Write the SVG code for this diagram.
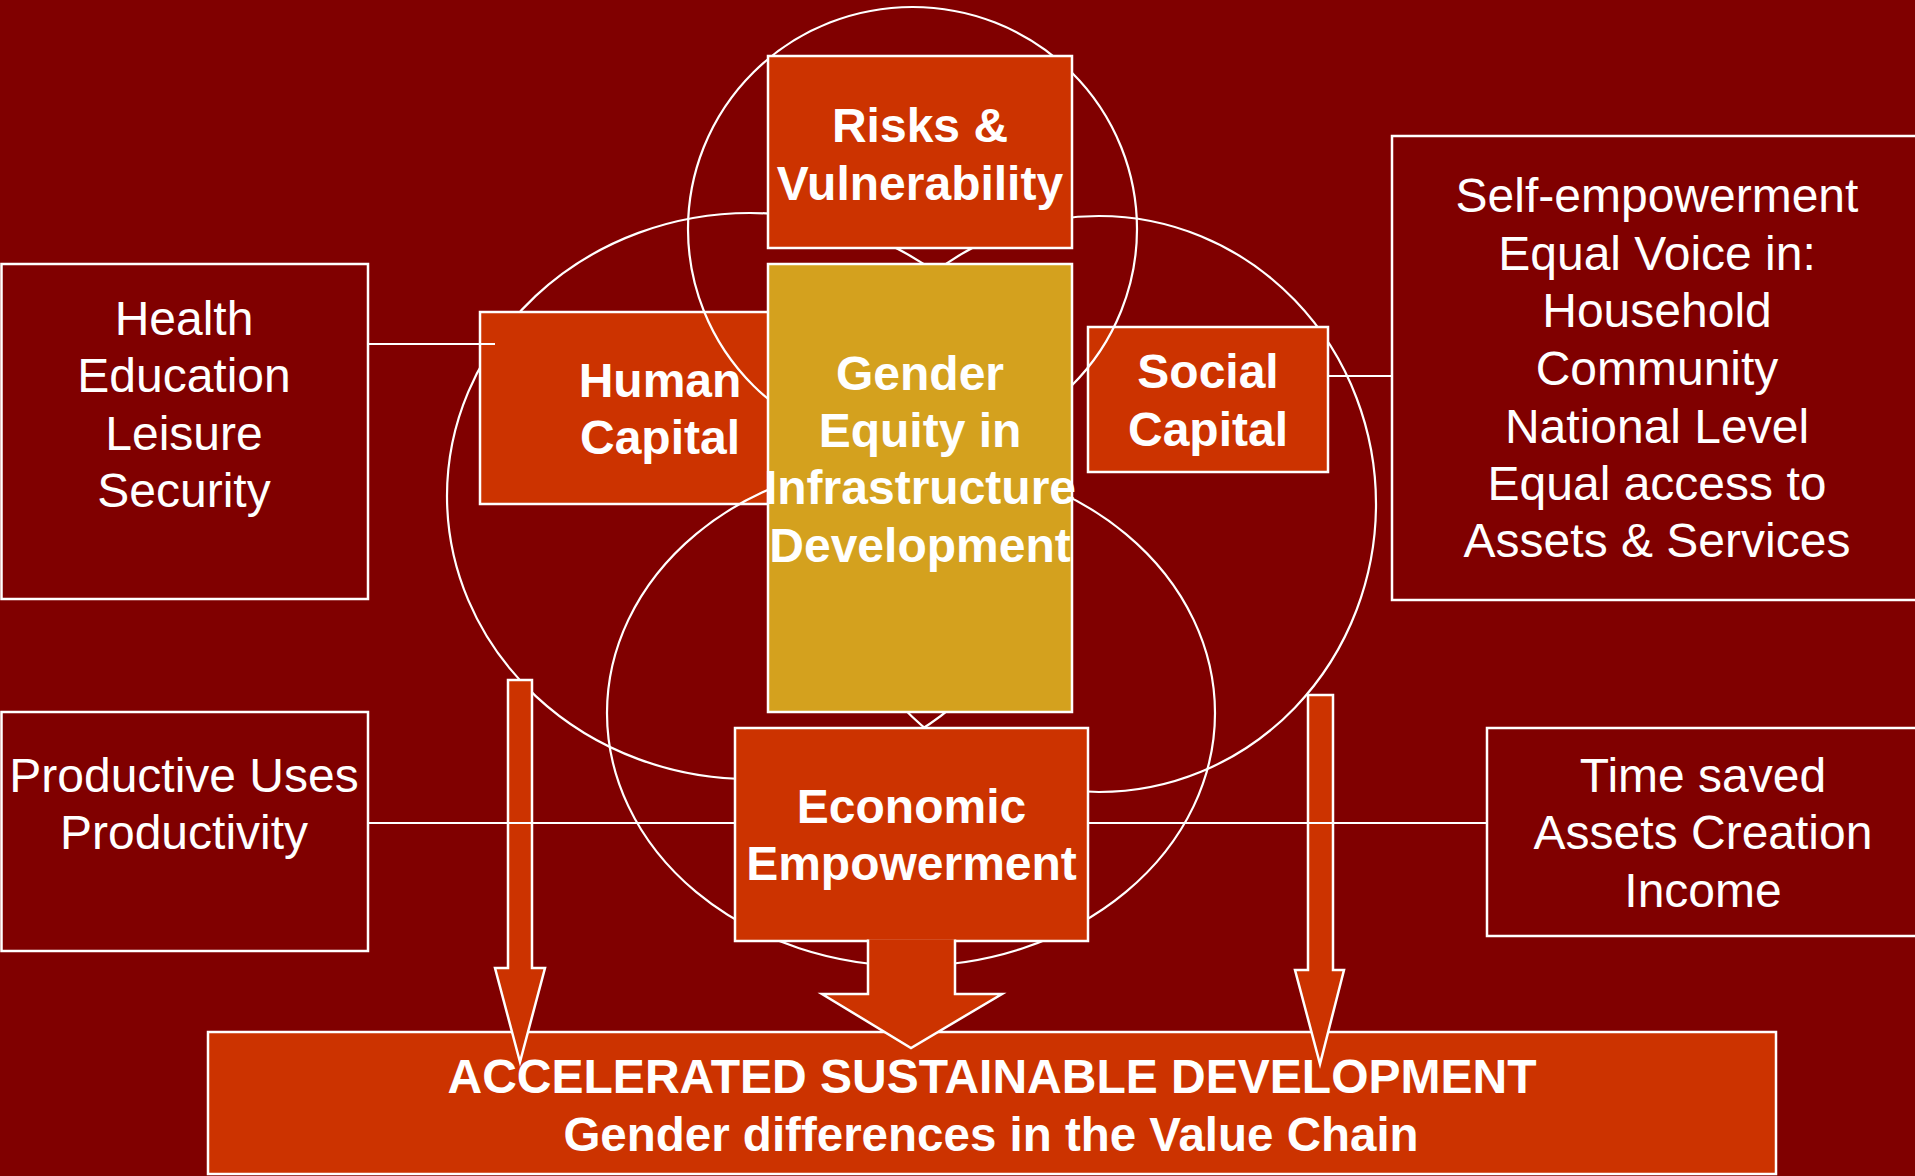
<svg xmlns="http://www.w3.org/2000/svg" width="1915" height="1176" viewBox="0 0 1915 1176">
  <style>
    .ring { fill: none; stroke: #ffffff; stroke-width: 2.2; }
    .core { fill: #cc3300; stroke: #ffffff; stroke-width: 2.5; }
    .gold { fill: #d4a11e; stroke: #ffffff; stroke-width: 2.5; }
    .side { fill: #800000; stroke: #ffffff; stroke-width: 2.5; }
    .link { stroke: #ffffff; stroke-width: 2.2; fill: none; }
    .arrow { fill: #cc3300; stroke: #ffffff; stroke-width: 2.5; stroke-linejoin: miter; }
    text { font-family: "Liberation Sans", Arial, sans-serif; fill: #ffffff; text-anchor: middle; }
    .b { font-weight: bold; font-size: 48px; }
    .r { font-size: 48px; }
  </style>

  <rect x="0" y="0" width="1915" height="1176" fill="#800000"/>

  <!-- outer context boxes -->
  <g id="health-box">
    <rect class="side" x="1.5" y="264" width="366.5" height="335"/>
    <text class="r" x="184" y="335">Health</text>
    <text class="r" x="184" y="392">Education</text>
    <text class="r" x="184" y="450">Leisure</text>
    <text class="r" x="184" y="507">Security</text>
  </g>
  <g id="productive-box">
    <rect class="side" x="1.5" y="712" width="366.5" height="239"/>
    <text class="r" x="184" y="792">Productive Uses</text>
    <text class="r" x="184" y="849">Productivity</text>
  </g>
  <g id="voice-box">
    <rect class="side" x="1392" y="136" width="540" height="464"/>
    <text class="r" x="1657" y="212">Self-empowerment</text>
    <text class="r" x="1657" y="270">Equal Voice in:</text>
    <text class="r" x="1657" y="327">Household</text>
    <text class="r" x="1657" y="385">Community</text>
    <text class="r" x="1657" y="443">National Level</text>
    <text class="r" x="1657" y="500">Equal access to</text>
    <text class="r" x="1657" y="557">Assets &amp; Services</text>
  </g>
  <g id="time-box">
    <rect class="side" x="1487" y="728" width="440" height="208"/>
    <text class="r" x="1703" y="792">Time saved</text>
    <text class="r" x="1703" y="849">Assets Creation</text>
    <text class="r" x="1703" y="907">Income</text>
  </g>

  <!-- side rings, under the capital boxes -->
  <g id="rings-back">
    <ellipse class="ring" cx="750" cy="496" rx="303" ry="283"/>
    <ellipse class="ring" cx="1099" cy="504" rx="277" ry="288"/>
  </g>

  <g id="human-capital">
    <rect class="core" x="480" y="312" width="290" height="192"/>
    <text class="b" x="660" y="397">Human</text>
    <text class="b" x="660" y="454">Capital</text>
  </g>
  <g id="social-capital">
    <rect class="core" x="1088" y="327" width="240" height="145"/>
    <text class="b" x="1208" y="388">Social</text>
    <text class="b" x="1208" y="446">Capital</text>
  </g>

  <!-- top and bottom rings, over the capital boxes -->
  <g id="rings-front">
    <ellipse class="ring" cx="912.5" cy="229" rx="224.5" ry="222"/>
    <ellipse class="ring" cx="911" cy="713" rx="304" ry="253"/>
  </g>

  <g id="risks">
    <rect class="core" x="768" y="56" width="304" height="192"/>
    <text class="b" x="920" y="142">Risks &amp;</text>
    <text class="b" x="920" y="200">Vulnerability</text>
  </g>
  <g id="gender-equity">
    <rect class="gold" x="768" y="264" width="304" height="448"/>
    <text class="b" x="920" y="390">Gender</text>
    <text class="b" x="920" y="447">Equity in</text>
    <text class="b" x="920" y="504">Infrastructure</text>
    <text class="b" x="920" y="562">Development</text>
  </g>
  <g id="economic-empowerment">
    <rect class="core" x="735" y="728" width="353" height="213"/>
    <text class="b" x="911.5" y="823">Economic</text>
    <text class="b" x="911.5" y="880">Empowerment</text>
  </g>

  <g id="accelerated-development">
    <rect class="core" x="208" y="1032" width="1568" height="142"/>
    <text class="b" x="992" y="1093">ACCELERATED SUSTAINABLE DEVELOPMENT</text>
    <text class="b" x="991" y="1151" style="font-size:47.5px">Gender differences in the Value Chain</text>
  </g>

  <g id="connectors">
    <polygon class="arrow" points="508,680 532,680 532,968 545,968 520,1062 495,968 508,968"/>
    <polygon class="arrow" points="1308,695 1333,695 1333,970 1344,970 1320,1064 1295,970 1308,970"/>
    <path class="arrow" d="M868,939.5 L868,994 L822,994 L911,1048 L1002,994 L955,994 L955,939.5"/>
    <line class="link" x1="368" y1="344" x2="495" y2="344"/>
    <line class="link" x1="1328" y1="376" x2="1392" y2="376"/>
    <line class="link" x1="368" y1="823" x2="735" y2="823"/>
    <line class="link" x1="1088" y1="823" x2="1487" y2="823"/>
  </g>
</svg>
